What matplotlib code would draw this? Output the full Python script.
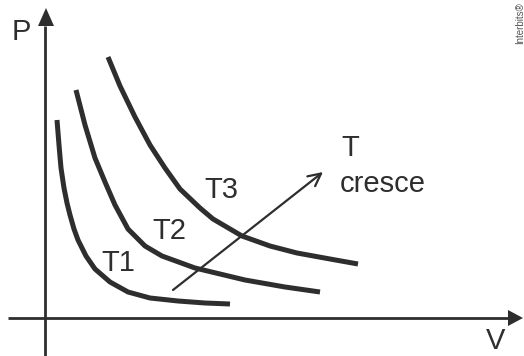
import matplotlib
matplotlib.use("Agg")
import matplotlib.pyplot as plt
import numpy as np

# Isotherm points (V, P) with origin at axes crossing
ox, oy = 45.5, 318.0
t1_px = [(57,120),(59,145),(61,168),(64,188),(67,203),(70,215),(74,229),(78,240),(86,256),
         (95,269),(110,282),(128,292),(150,298),(178,301),(205,303),(230,304)]
t2_px = [(76,90),(85,125),(95,158),(105,182),(115,205),(128,229),(145,246),(162,256),
         (195,268),(245,280),(285,287),(320,292)]
t3_px = [(108,57),(120,86),(135,117),(150,145),(165,168),(180,189),(200,208),(213,219),
         (242,236),(270,246),(297,253),(330,259),(358,264)]
curve_labels = ["T1", "T2", "T3"]
label_pos_px = [(118,263),(169,231),(221,190)]

def conv(pts):
    a = np.array(pts, dtype=float)
    return a[:, 0] - ox, oy - a[:, 1]

W, H = 524, 356
fig = plt.figure(figsize=(W/100, H/100), dpi=100)
ax = fig.add_axes([0, 0, 1, 1])
ax.set_xlim(-ox, W - ox)
ax.set_ylim(oy - H, oy)
ax.axis("off")

col = "#2e2e2e"
font = ["Liberation Sans", "DejaVu Sans"]
fs = 21

# axes
ax.plot([-ox + 8, W - ox - 16], [0, 0], color=col, lw=2, solid_capstyle="butt")
ax.plot([0, 0], [oy - H, oy - 26], color=col, lw=2, solid_capstyle="butt")
ax.fill([W - ox - 16, W - ox - 1, W - ox - 16], [8, 0, -8], color=col, lw=0)
ax.fill([-7.5, 0.5, 8.5], [oy - 26, oy - 8, oy - 26], color=col, lw=0)

for pts in (t1_px, t2_px, t3_px):
    x, y = conv(pts)
    ax.plot(x, y, color=col, lw=3.6, solid_joinstyle="round", solid_capstyle="butt")

for lab, (px, py) in zip(curve_labels, label_pos_px):
    ax.text(px - ox, oy - py, lab, fontsize=fs, family=font, color=col,
            ha="center", va="center")

# T cresce arrow
ax.annotate("", xy=(323 - ox, oy - 172), xytext=(173 - ox, oy - 290),
            arrowprops=dict(arrowstyle="->,head_length=0.9,head_width=0.45",
                            color=col, lw=1.6, shrinkA=0, shrinkB=0))
ax.text(341 - ox, oy - 148, "T", fontsize=fs, family=font, color=col,
        ha="left", va="center")
ax.text(340 - ox, oy - 192, "cresce", fontsize=fs, family=font, color=col,
        ha="left", va="baseline")

ax.text(21 - ox, oy - 32, "P", fontsize=fs, family=font, color=col,
        ha="center", va="center")
ax.text(496 - ox, oy - 355, "V", fontsize=fs, family=font, color=col,
        ha="center", va="bottom")
ax.text(520.5 - ox, oy - 2, "Interbits®", fontsize=7, family=["Liberation Sans Narrow", "Liberation Sans", "DejaVu Sans"],
        color="#555555", rotation=90, ha="center", va="top")

fig.savefig("out.png", dpi=100)
